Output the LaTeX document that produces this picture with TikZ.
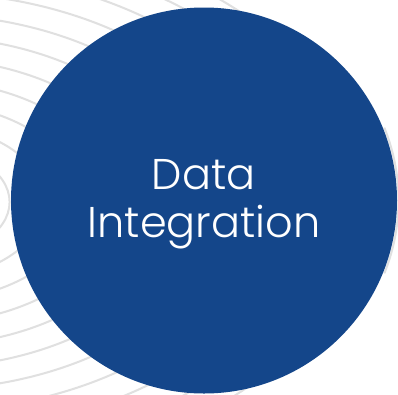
\documentclass[tikz,border=0pt]{standalone}
\usepackage{fontspec}
\IfFontExistsTF{Poppins Light}{\setmainfont{Poppins Light}}{\setmainfont{Poppins}}
\definecolor{diskblue}{HTML}{14468A}
\definecolor{ripple}{HTML}{E0E0E0}
\begin{document}
\begin{tikzpicture}[x=1pt,y=-1pt,
  rippleline/.style={draw=ripple,line width=2pt},
  disk/.style={circle,fill=diskblue,inner sep=0pt,minimum size=386pt},
  label/.style={text=white,font=\fontsize{43}{50}\selectfont,anchor=base,inner sep=0pt}]
\fill[white] (0,0) rectangle (398,394);
\useasboundingbox (0,0) rectangle (398,394);
\begin{scope}
\clip (0,0) rectangle (398,394);
\foreach \b in {56,78,100,122,144,166,188,210,232,254,276}{
  \draw[rippleline] (-80,202) ellipse [x radius={1.6*\b}, y radius=\b];
}
\draw[rippleline] (204,200.5) ++(-22:194.5) arc[start angle=-22,end angle=22,radius=194.5];
\end{scope}
\node[disk] (c) at (204,200.5) {};
\node[label] (l1) at (203.5,189) {Data};
\node[label] (l2) at (204,237) {Integration};
\end{tikzpicture}
\end{document}
